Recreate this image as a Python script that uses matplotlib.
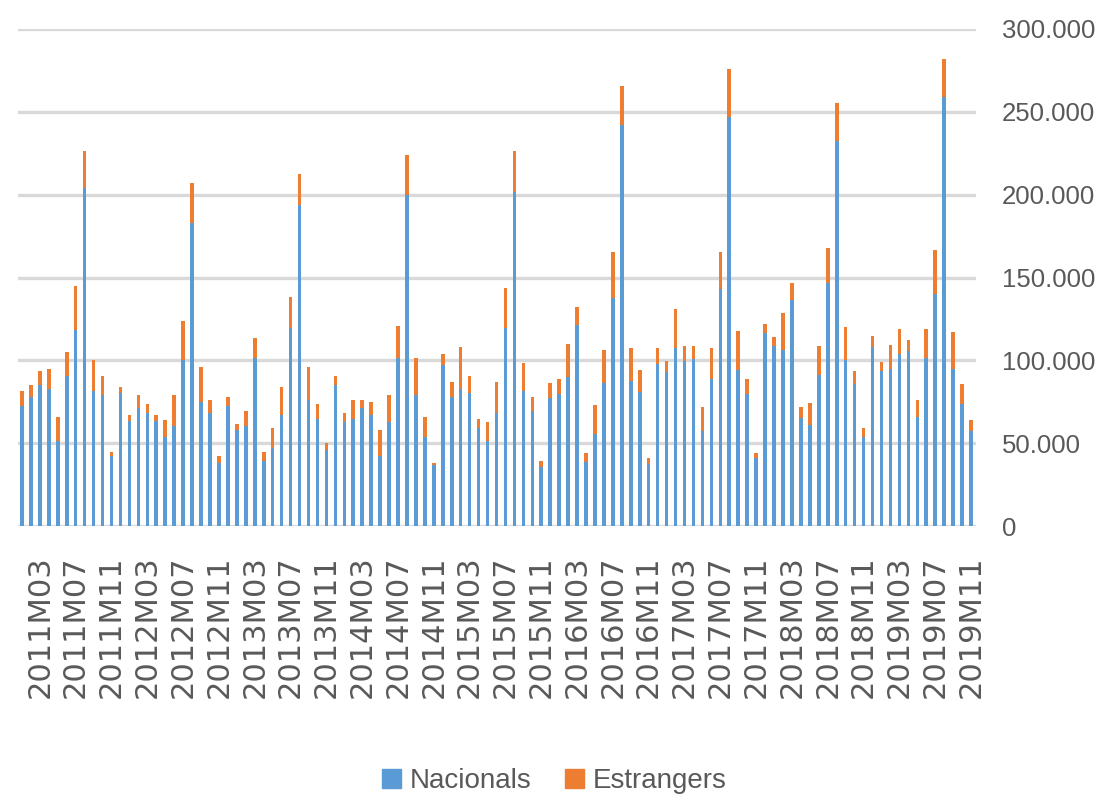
import numpy as np
import matplotlib
matplotlib.use('Agg')
import matplotlib.pyplot as plt
from matplotlib.ticker import FuncFormatter
from matplotlib.patches import Patch

# monthly categories 2011M01 .. 2019M11
months = ['%dM%02d' % (y, m) for y in range(2011, 2020) for m in range(1, 13)][:107]

nacionals = [72400, 77800, 85400, 82800, 51200, 90800, 118600, 204200, 81600, 79000, 42000, 80400,
             63200, 71000, 68200, 63200, 53800, 60400, 100200, 183000, 75000, 68200, 38200, 72400,
             57800, 60400, 101200, 39400, 47200, 67000, 119800, 193600, 76200, 64400, 46000, 85400,
             63000, 64400, 71000, 67000, 42000, 63000, 101200, 200000, 78800, 53800, 36800, 97400,
             77600, 82800, 80200, 59200, 51200, 68400, 119800, 201400, 81600, 69600, 35400, 77300,
             79600, 90200, 121600, 38600, 55800, 86200, 137600, 241800, 87400, 81000, 37400, 98000,
             92800, 107200, 99400, 100600, 57200, 88800, 142800, 247000, 94000, 79600, 41200, 116400,
             108600, 106000, 136200, 65000, 61000, 91400, 146500, 232600, 100200, 85500, 53700, 108000,
             93400, 94800, 104000, 105400, 65600, 101400, 139800, 259100, 94800, 73400, 57500]

estrangers = [9000, 7600, 8000, 12000, 14600, 14400, 26200, 22200, 18400, 11600, 2600, 3800,
              3800, 7800, 5400, 3800, 10400, 18400, 23400, 23800, 21000, 8000, 3800, 5200,
              4000, 9200, 12000, 5200, 11800, 17200, 18400, 18600, 19800, 9200, 4000, 5400,
              5400, 11800, 5200, 8000, 15800, 15800, 19800, 23800, 22400, 12000, 1400, 6600,
              9200, 25000, 10600, 5200, 11800, 18400, 23600, 25000, 17000, 8000, 4000, 9200,
              9200, 19600, 10600, 5200, 17200, 19800, 27600, 23600, 19800, 13000, 3800, 9200,
              6600, 23800, 9200, 8000, 14400, 18400, 22400, 29000, 23800, 9200, 2600, 5400,
              5400, 22400, 10600, 6600, 13400, 17200, 21100, 22500, 19700, 7900, 5300, 6700,
              5400, 14600, 14700, 6700, 10700, 17300, 26600, 22600, 22500, 12100, 6700]

blue = '#5B9BD5'
orange = '#ED7D31'
grey = '#595959'

narrow = ['Liberation Sans', 'DejaVu Sans']

fig = plt.figure(figsize=(11.02, 8), dpi=100)
ax = fig.add_axes([17.5 / 1102, 274 / 800, 958 / 1102, 497 / 800])

x = np.arange(len(months))
ax.bar(x, nacionals, width=0.4, color=blue, zorder=3)
ax.bar(x, estrangers, width=0.4, bottom=nacionals, color=orange, zorder=3)

ax.set_xlim(-0.5, len(months) - 0.5)
ax.set_ylim(0, 300000)
ax.set_yticks(np.arange(0, 300001, 50000))
ax.yaxis.set_major_formatter(FuncFormatter(lambda v, p: ('{:,.0f}'.format(v)).replace(',', '.')))
ax.yaxis.tick_right()
ax.grid(axis='y', color='#D9D9D9', linewidth=2.4, zorder=0)
ax.tick_params(axis='y', length=0, pad=19, labelsize=18.5, labelcolor=grey)
for lbl in ax.get_yticklabels():
    lbl.set_family(narrow)
    lbl.set_horizontalalignment('left')

tick_pos = x[2::4]
ax.set_xticks(tick_pos)
ax.set_xticklabels([months[i] for i in tick_pos], rotation=90, fontsize=22,
                   color=grey, family='DejaVu Sans')
ax.tick_params(axis='x', length=0, pad=21)

for s in ['top', 'left', 'right', 'bottom']:
    ax.spines[s].set_visible(False)

handles = [Patch(color=blue, label='Nacionals'), Patch(color=orange, label='Estrangers')]
fig.legend(handles=handles, loc='center', bbox_to_anchor=(554 / 1102, 1 - 781 / 800),
           ncol=2, frameon=False, prop={'family': narrow, 'size': 20},
           handlelength=0.7, handleheight=0.7, handletextpad=0.3, columnspacing=1.2,
           labelcolor=grey)

fig.savefig('out.png', dpi=100)
